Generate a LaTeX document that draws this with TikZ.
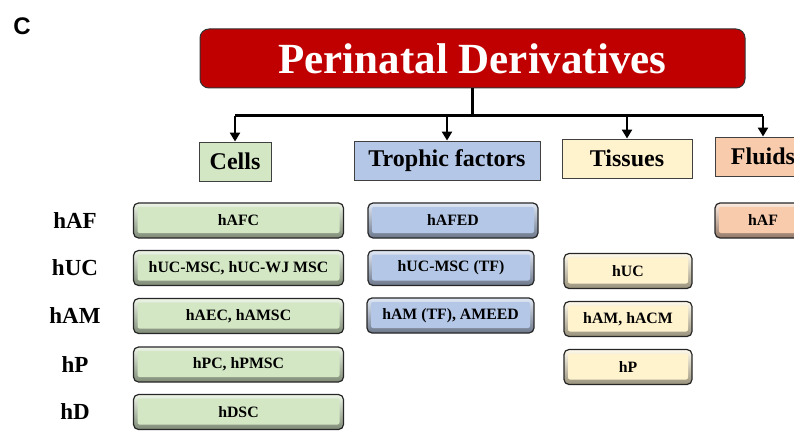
\documentclass[tikz,border=0pt]{standalone}
\usepackage{fontspec}
\setmainfont{Liberation Serif}
\newfontfamily\panelfont{Liberation Sans}
\usetikzlibrary{arrows.meta}

\definecolor{titlered}{HTML}{C00000}
\definecolor{cellgreen}{HTML}{D3E7C4}
\definecolor{tfblue}{HTML}{B4C7E7}
\definecolor{tissueyellow}{HTML}{FFF3CE}
\definecolor{fluidorange}{HTML}{F8CBAD}

\tikzset{
  header/.style={draw=black!75, line width=0.9pt, fill=#1, inner sep=0pt,
    minimum height=39, font=\fontsize{24}{26}\selectfont\bfseries},
  bevel/.style={rounded corners=5pt, draw=black!85, line width=1.2pt,
    top color=#1!40!white, middle color=#1, bottom color=#1!60!black,
    path picture={\fill[#1, rounded corners=2pt]
      ([shift={(4pt,-4pt)}]path picture bounding box.north west) rectangle
      ([shift={(-4pt,5pt)}]path picture bounding box.south east);},
    inner sep=0pt, minimum height=35, font=\fontsize{15.8}{18}\selectfont\bfseries},
  rowlabel/.style={font=\fontsize{23}{26}\selectfont\bfseries, inner sep=0pt},
  conn/.style={line width=2.8pt, black},
}

\begin{document}
\begin{tikzpicture}[x=1pt,y=-1pt]
  \clip (0,0) rectangle (794,433);

  %PANEL LETTER
  \node[font=\panelfont\fontsize{24}{26}\selectfont\bfseries] (panel) at (22,26) {C};

  %TITLE
  \node[draw=black!80, line width=1pt, fill=titlered, rounded corners=9pt,
        minimum width=545, minimum height=59, inner sep=0pt,
        text=white, font=\fontsize{43}{46}\selectfont\bfseries] (title) at (472.5,58.5) {Perinatal Derivatives};

  %CATEGORIES
  \node[header=cellgreen, minimum width=72] (cells) at (235,161.5) {Cells};
  \node[header=tfblue, minimum width=186] (trophic) at (447,160.5) {Trophic factors};
  \node[header=tissueyellow, minimum width=130] (tissues) at (627,158.5) {Tissues};
  \node[header=fluidorange, minimum width=96] (fluids) at (763,156.5) {Fluids};

  %ARROWS
  \draw[conn] (title.south) -- ++(0,27) coordinate (hub);
  \draw[conn] (cells.north |- hub) -- (fluids.north |- hub);
  \foreach \c in {cells,trophic,tissues,fluids}
    \draw[conn,-{Triangle[length=9pt,width=10pt]}] (\c.north |- hub) -- (\c.north);

  %CELLS
  \node[bevel=cellgreen, minimum width=210] (cAF) at (238.5,220.5) {hAFC};
  \node[bevel=cellgreen, minimum width=210] (cUC) at (238.5,268) {hUC-MSC, hUC-WJ MSC};
  \node[bevel=cellgreen, minimum width=210] (cAM) at (238.5,316) {hAEC, hAMSC};
  \node[bevel=cellgreen, minimum width=210] (cP) at (238.5,364.5) {hPC, hPMSC};
  \node[bevel=cellgreen, minimum width=210] (cD) at (238.5,412) {hDSC};

  %ROW LABELS
  \node[rowlabel] (lAF) at (75,0 |- cAF) {hAF};
  \node[rowlabel] (lUC) at (75,0 |- cUC) {hUC};
  \node[rowlabel] (lAM) at (75,0 |- cAM) {hAM};
  \node[rowlabel] (lP) at (75,0 |- cP) {hP};
  \node[rowlabel] (lD) at (75,0 |- cD) {hD};

  %TROPHIC FACTORS
  \node[bevel=tfblue, minimum width=170] (tfAF) at (453,220.5) {hAFED};
  \node[bevel=tfblue, minimum width=166] (tfUC) at (451,268) {hUC-MSC (TF)};
  \node[bevel=tfblue, minimum width=167] (tfAM) at (450.5,315.5) {hAM (TF), AMEED};

  %TISSUES
  \node[bevel=tissueyellow, minimum width=128] (tsUC) at (628,271) {hUC};
  \node[bevel=tissueyellow, minimum width=128] (tsAM) at (628,319) {hAM, hACM};
  \node[bevel=tissueyellow, minimum width=128] (tsP) at (628,367) {hP};

  %FLUIDS
  \node[bevel=fluidorange, minimum width=96] (flAF) at (763,220.5) {hAF};
\end{tikzpicture}
\end{document}
